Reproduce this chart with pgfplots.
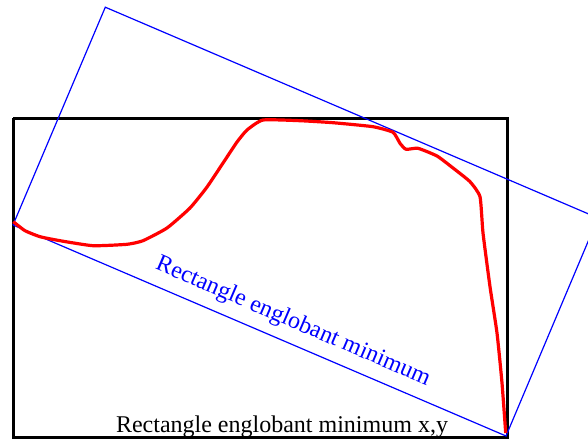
\documentclass[border=0pt]{standalone}
\usepackage{pgfplots}
\pgfplotsset{compat=1.18}
\usepackage{fontspec}
\setmainfont{Liberation Serif}
\begin{document}
\begin{tikzpicture}
\begin{axis}[scale only axis, width=588pt, height=439pt,
  xmin=0, xmax=588, ymin=0, ymax=439, y dir=reverse,
  hide axis, clip=true]
% axis-aligned bounding rectangle
\addplot[black, line width=3pt, line join=miter] coordinates {
 (13,118) (507,118) (507,437) (13,437) (13,118)};
% minimum bounding rectangle (rotated)
\addplot[blue, line width=1.2pt] coordinates {
 (13,225) (105.3,7.2) (598,218) (506,436) (13,225)};
% curve
\addplot[red, line width=3.2pt, line join=round, smooth, tension=0.3] coordinates {
 (13.3,221.7) (25,230.7) (40,236.7) (60,240.7) (93,245.7) (127,244.3)
 (143,240.7) (167,228) (190,208) (207,187) (227,157) (237,142) (247,130)
 (263,120) (300,120.7) (333,122.7) (373,126.7) (393,132.3) (400,143.3)
 (406,149.3) (418,148.3) (437,156) (453,168) (470,181.7) (480,196.7)
 (483,233) (490,286.7) (497,333) (502,383) (505.7,433)};
\node[blue, rotate=-23.2, font=\fontsize{24}{28}\selectfont, inner sep=0pt]
  at (axis cs:293,322) {Rectangle englobant minimum};
\node[black, font=\fontsize{24}{28}\selectfont, inner sep=0pt, anchor=base]
  at (axis cs:282,432.5) {Rectangle englobant minimum x,y};
\end{axis}
\pgfresetboundingbox
\path[use as bounding box] (current axis.south west) rectangle (current axis.north east);
\end{tikzpicture}
\end{document}
